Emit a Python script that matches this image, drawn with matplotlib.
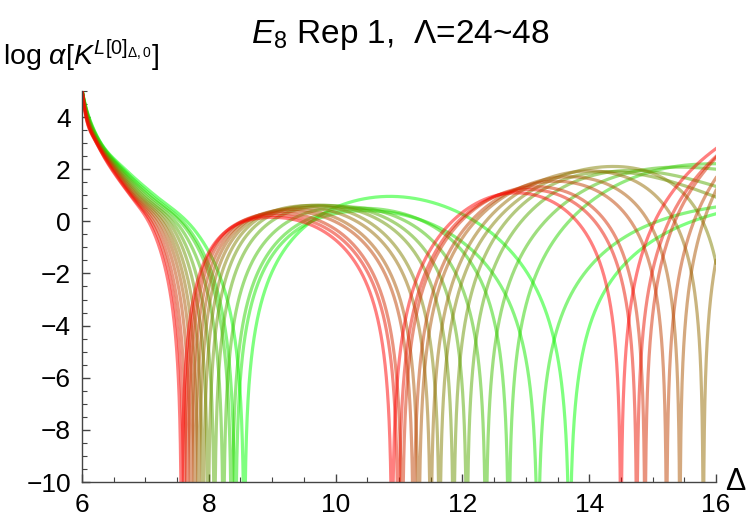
import numpy as np
import matplotlib
matplotlib.use("Agg")
import matplotlib.pyplot as plt
from matplotlib.ticker import MultipleLocator

# values, one entry per curve (Lambda = 24 ... 48)
LAMBDAS = [24, 26, 28, 30, 32, 34, 36, 38, 40, 42, 44, 46, 48]

# positions where log alpha drops to -infinity
ZERO_1 = [8.56, 8.42, 8.36, 8.23, 8.09, 7.99, 7.91, 7.84, 7.78, 7.72, 7.66, 7.61, 7.57]
ZERO_2 = [13.69, 13.19, 12.73, 12.37, 12.07, 11.86, 11.64, 11.50, 11.31, 11.23, 11.05, 10.99, 10.89]
ZERO_3 = [np.nan, np.nan, np.nan, np.nan, np.nan, np.nan,
          16.20, 15.80, 15.43, 15.22, 14.88, 14.75, 14.50]

# falling branch near Delta = 6: where each curve crosses these levels
START_LEVELS = [5.05, 3.93, 3.0, 2.02, 1.0, -0.41]
X_AT_505 = [6.0] * 13
X_AT_393 = [6.12, 6.115, 6.11, 6.105, 6.10, 6.095, 6.09, 6.085, 6.08, 6.08, 6.075, 6.07, 6.07]
X_AT_300 = [6.30, 6.295, 6.29, 6.28, 6.27, 6.26, 6.255, 6.25, 6.245, 6.24, 6.235, 6.23, 6.23]
X_AT_202 = [6.67, 6.64, 6.62, 6.60, 6.58, 6.56, 6.545, 6.53, 6.515, 6.50, 6.485, 6.47, 6.46]
X_AT_100 = [7.15, 7.09, 7.05, 7.00, 6.96, 6.92, 6.89, 6.86, 6.83, 6.81, 6.79, 6.77, 6.76]
X_AT_M041 = [7.80, 7.72, 7.68, 7.60, 7.53, 7.47, 7.41, 7.36, 7.31, 7.26, 7.21, 7.17, 7.13]

# first bump (between first and second zero)
PEAK1_X = [10.6, 10.8, 10.4, 10.2, 10.0, 9.8, 9.7, 9.55, 9.45, 9.35, 9.25, 9.15, 9.05]
PEAK1_Y = [0.92, 0.36, 0.50, 0.55, 0.60, 0.62, 0.60, 0.52, 0.45, 0.38, 0.30, 0.22, 0.15]

# second bump
BUMP2_X = [15.0, 14.5, 15.5, 15.1, 14.6, 14.2, 13.85, 13.65, 13.4, 13.25, 13.0, 12.9, 12.7]
BUMP2_Y = [-0.75, -0.70, 2.15, 2.05, 1.95, 1.90, 1.95, 1.85, 1.65, 1.50, 1.30, 1.20, 1.07]

# value at the right edge, Delta = 16
END_Y = [0.29, 0.55, 2.21, 2.00, 1.34, 0.93, -1.60, -1.50, 1.19, 1.67, 2.44, 2.49, 2.79]

K = 2.5       # steepness of the log dips
X_POLE = 5.9  # the curves blow up just left of the plot
STRETCH = 0.35


def smooth_through(xk, yk, x):
    # cubic Hermite through the knots, slopes from the local parabola
    xk = np.asarray(xk, float)
    yk = np.asarray(yk, float)
    h = np.diff(xk)
    d = np.diff(yk) / h
    m = np.zeros_like(yk)
    m[1:-1] = (h[1:] * d[:-1] + h[:-1] * d[1:]) / (h[:-1] + h[1:])
    m[0] = d[0] + (d[0] - m[1]) * 0.5
    m[-1] = d[-1] + (d[-1] - m[-2]) * 0.5
    idx = np.clip(np.searchsorted(xk, x) - 1, 0, len(xk) - 2)
    t = (x - xk[idx]) / h[idx]
    h00 = 2 * t**3 - 3 * t**2 + 1
    h10 = t**3 - 2 * t**2 + t
    h01 = -2 * t**3 + 3 * t**2
    h11 = t**3 - t**2
    return (h00 * yk[idx] + h10 * h[idx] * m[idx]
            + h01 * yk[idx + 1] + h11 * h[idx] * m[idx + 1])


def warp(x):
    # spread out the crowded knots next to Delta = 6
    x = np.asarray(x, float)
    return x + STRETCH * np.log(x - X_POLE)


def main():
    plt.rcParams["font.family"] = "Liberation Sans"
    plt.rcParams["mathtext.fontset"] = "custom"
    plt.rcParams["mathtext.rm"] = "Liberation Sans"
    plt.rcParams["mathtext.it"] = "Liberation Sans:italic"
    plt.rcParams["mathtext.bf"] = "Liberation Sans:bold"

    fig = plt.figure(figsize=(7.5, 5.25), dpi=100)
    ax = fig.add_axes([0.1093, 0.0819, 0.8454, 0.7448])

    grid = np.linspace(6, 16, 20001)
    n = len(LAMBDAS)
    starts = [X_AT_505, X_AT_393, X_AT_300, X_AT_202, X_AT_100, X_AT_M041]
    for i in range(n):
        zs = [z for z in (ZERO_1[i], ZERO_2[i], ZERO_3[i]) if not np.isnan(z)]

        def zero_part(x):
            x = np.asarray(x, float)
            with np.errstate(divide="ignore"):
                return K * sum(np.log(np.abs(x - z)) for z in zs)

        xk = np.array([col[i] for col in starts] + [PEAK1_X[i], BUMP2_X[i], 16.0])
        yk = START_LEVELS + [PEAK1_Y[i], BUMP2_Y[i], END_Y[i]]
        sk = np.asarray(yk) - zero_part(xk)

        xx = np.sort(np.concatenate([grid, [z for z in zs if z <= 16]]))
        yy = smooth_through(warp(xk), sk, warp(xx)) + zero_part(xx)
        yy = np.maximum(yy, -12)

        t = i / (n - 1)
        ax.plot(xx, yy, color=(t, 1 - t, 0), alpha=0.5, lw=2.3)

    ax.set_xlim(6, 16)
    ax.set_ylim(-10, 5)
    ax.spines["top"].set_visible(False)
    ax.spines["right"].set_visible(False)
    for s in ("left", "bottom"):
        ax.spines[s].set_color("#444444")
        ax.spines[s].set_linewidth(1.0)
    ax.set_xticks([6, 8, 10, 12, 14, 16])
    ax.set_yticks([-10, -8, -6, -4, -2, 0, 2, 4])
    ax.xaxis.set_minor_locator(MultipleLocator(0.5))
    ax.yaxis.set_minor_locator(MultipleLocator(0.5))
    ax.tick_params(which="both", direction="in", colors="#444444",
                   labelcolor="black", labelsize=19)
    ax.tick_params(which="major", length=6, width=1.0)
    ax.tick_params(which="minor", length=3.5, width=0.8)
    ax.tick_params(axis="x", pad=8)
    ax.tick_params(axis="y", pad=8)

    fig.text(0.533, 0.933, r"$E_8$ Rep 1,  Λ=24~48",
             ha="center", va="center", fontsize=24)
    fig.text(0.004, 0.893, r"log $\alpha[K^{L[0]_{\Delta,0}}]$",
             ha="left", va="center", fontsize=20.5)
    fig.text(0.980, 0.082, "Δ", ha="center", va="center", fontsize=22)

    fig.savefig("out.png", dpi=100)


if __name__ == "__main__":
    main()
